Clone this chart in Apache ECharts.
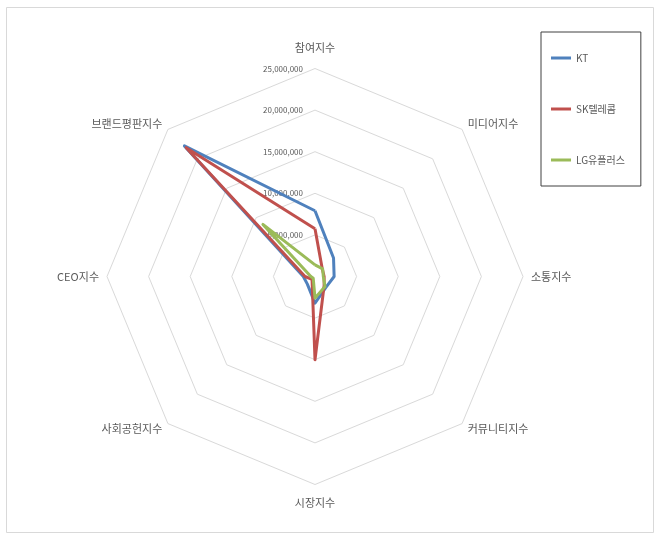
<!DOCTYPE html>
<html>
<head>
<meta charset="utf-8">
<script src="https://cdn.jsdelivr.net/npm/echarts@6/dist/echarts.min.js"></script>
<style>
html,body{margin:0;padding:0;background:#fff;}
#c{width:660px;height:537px;}
</style>
</head>
<body>
<div id="c"></div>
<script>
// Indicators listed counter-clockwise from the top (ECharts radar order)
const categories = ['참여지수', '브랜드평판지수', 'CEO지수', '사회공헌지수', '시장지수', '커뮤니티지수', '소통지수', '미디어지수'];
const seriesNames = ['KT', 'SK텔레콤', 'LG유플러스'];
const ktValues = [7900000, 22200000, 1400000, 1300000, 3200000, 1850000, 2300000, 3150000];
const skValues = [5750000, 21900000, 1200000, 500000, 10000000, 1550000, 1100000, 1250000];
const lgValues = [1400000, 8850000, 500000, 300000, 2600000, 1700000, 1000000, 1300000];
const axisMax = 25000000;
const axisInterval = 5000000;

const colors = ['#4F81BD', '#C0504D', '#9BBB59'];
const font = '"Noto Sans CJK KR", "Noto Sans", sans-serif';
const center = [315, 276.5];
const radius = 208;

const chart = echarts.init(document.getElementById('c'), null, {renderer: 'canvas'});
const values = [ktValues, skValues, lgValues];

chart.setOption({
  backgroundColor: '#fff',
  animation: false,
  color: colors,
  graphic: [{
    type: 'rect',
    shape: {x: 6.5, y: 7.5, width: 647, height: 525},
    style: {fill: 'none', stroke: '#d9d9d9', lineWidth: 1},
    silent: true
  }],
  legend: {
    orient: 'vertical',
    left: 541,
    top: 32,
    data: seriesNames,
    icon: 'rect',
    itemWidth: 20,
    itemHeight: 3,
    itemGap: 39,
    padding: [20, 16, 20, 10],
    borderColor: '#404040',
    borderWidth: 1,
    textStyle: {fontSize: 10, color: '#595959', fontFamily: font, lineHeight: 12}
  },
  radar: {
    center: center,
    radius: radius,
    startAngle: 90,
    shape: 'polygon',
    splitNumber: axisMax / axisInterval,
    indicator: categories.map(n => ({name: n, min: 0, max: axisMax})),
    axisName: {
      color: '#595959', fontSize: 11, fontFamily: font,
      formatter: (name) => {
        if (name === categories[0]) return '{top|' + name + '}';
        if (name === categories[4]) return '{bot|' + name + '}';
        return name;
      },
      rich: {
        top: {color: '#595959', fontSize: 11, fontFamily: font, padding: [0, 0, 7, 0]},
        bot: {color: '#595959', fontSize: 11, fontFamily: font, padding: [5, 0, 0, 0]}
      }
    },
    nameGap: 8,
    axisLine: {show: false},
    axisTick: {show: false},
    axisLabel: {show: false},
    splitArea: {show: false},
    splitLine: {lineStyle: {color: '#d9d9d9', width: 1}}
  },
  polar: {center: center, radius: radius},
  angleAxis: {
    type: 'value', startAngle: 90, min: 0, max: 360,
    show: false
  },
  radiusAxis: {
    type: 'value', min: 0, max: axisMax, interval: axisInterval,
    axisLine: {show: false},
    axisTick: {show: false},
    splitLine: {show: false},
    axisLabel: {
      showMinLabel: false,
      margin: 12,
      fontSize: 8,
      color: '#595959',
      fontFamily: font,
      formatter: v => v.toLocaleString('en-US')
    }
  },
  series: [{
    type: 'radar',
    symbol: 'none',
    lineStyle: {width: 3},
    data: seriesNames.map((n, i) => ({
      name: n,
      value: values[i],
      lineStyle: {color: colors[i], width: 3},
      itemStyle: {color: colors[i]}
    }))
  }]
});
</script>
</body>
</html>
